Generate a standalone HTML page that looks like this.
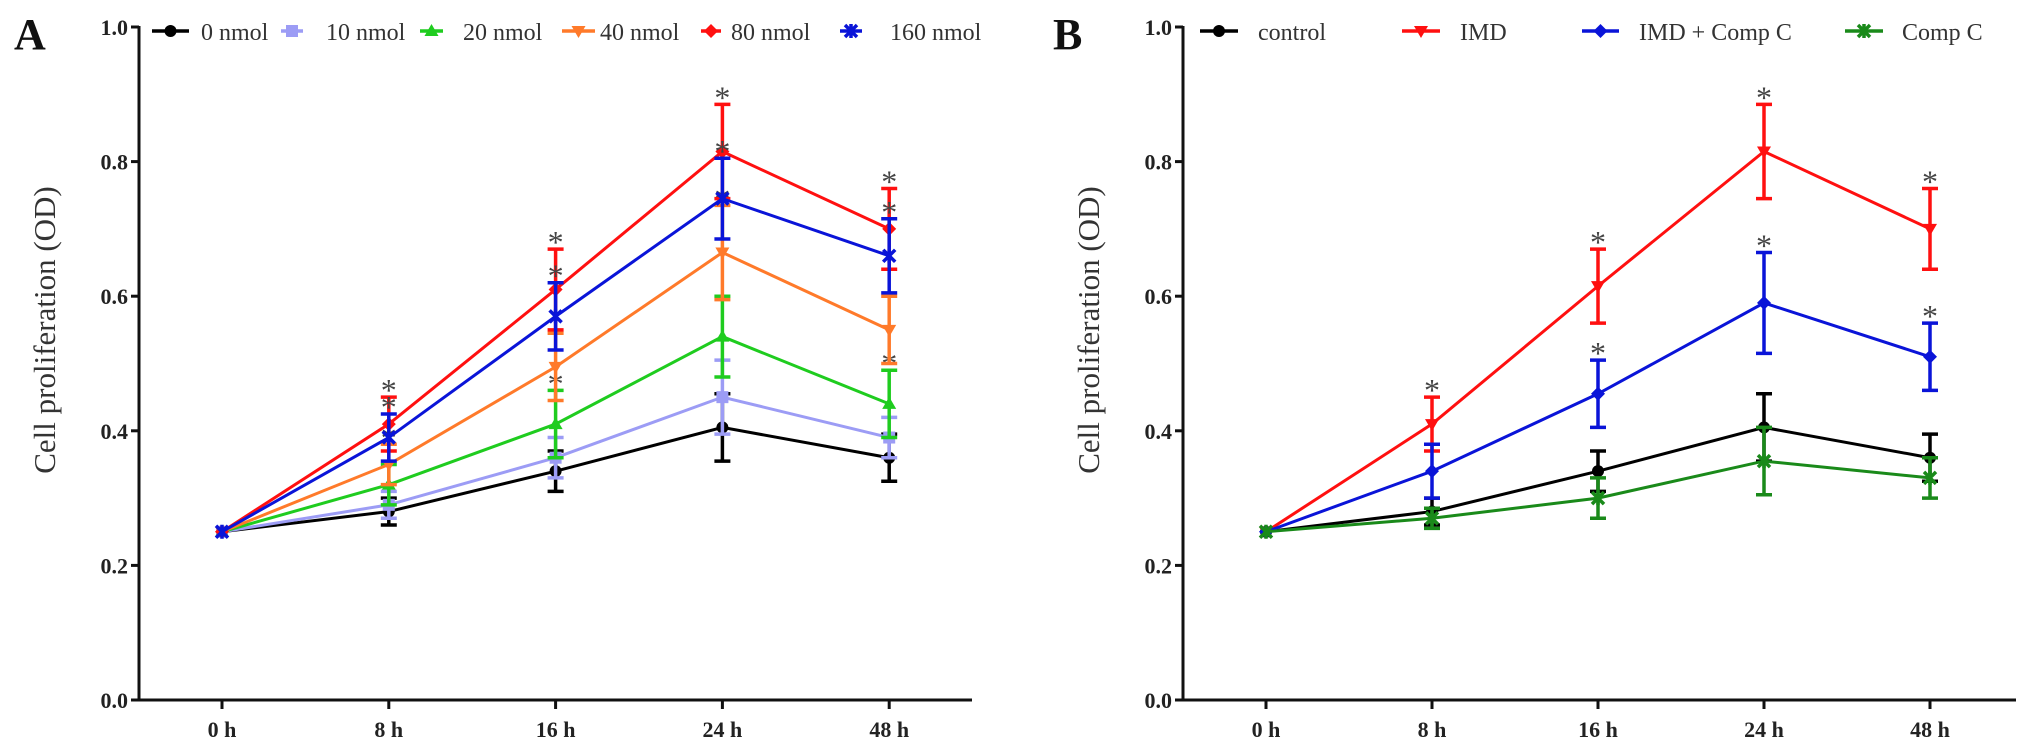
<!DOCTYPE html>
<html><head><meta charset="utf-8">
<style>
html,body{margin:0;padding:0;background:#fff;}
svg{display:block;font-family:"Liberation Serif",serif;}
</style></head>
<body>
<svg id="chart" width="2031" height="752" viewBox="0 0 2031 752"></svg>
<script>
const timeLabels = ["0 h","8 h","16 h","24 h","48 h"];
const yTicks = [0.0,0.2,0.4,0.6,0.8,1.0];

const aNames = ["0 nmol","10 nmol","20 nmol","40 nmol","80 nmol","160 nmol"];
const aV0 = [0.25,0.28,0.34,0.405,0.36];
const aV10 = [0.25,0.29,0.36,0.45,0.39];
const aV20 = [0.25,0.32,0.41,0.54,0.44];
const aV40 = [0.25,0.35,0.495,0.665,0.55];
const aV80 = [0.25,0.41,0.61,0.815,0.70];
const aV160 = [0.25,0.39,0.57,0.745,0.66];
const aE0 = [0.005,0.02,0.03,0.05,0.035];
const aE10 = [0.005,0.02,0.03,0.055,0.03];
const aE20 = [0.005,0.03,0.05,0.06,0.05];
const aE40 = [0.005,0.03,0.05,0.07,0.05];
const aE80 = [0.005,0.04,0.06,0.07,0.06];
const aE160 = [0.005,0.035,0.05,0.06,0.055];
const aStars = [[],[],[2,4],[1,3],[1,2,3,4],[1,2,3,4]];

const bNames = ["control","IMD","IMD + Comp C","Comp C"];
const bCtrl = [0.25,0.28,0.34,0.405,0.36];
const bIMD = [0.25,0.41,0.615,0.815,0.70];
const bIMDC = [0.25,0.34,0.455,0.59,0.51];
const bComp = [0.25,0.27,0.30,0.355,0.33];
const bECtrl = [0.005,0.02,0.03,0.05,0.035];
const bEIMD = [0.005,0.04,0.055,0.07,0.06];
const bEIMDC = [0.005,0.04,0.05,0.075,0.05];
const bEComp = [0.005,0.015,0.03,0.05,0.03];
const bStars = [[],[1,2,3,4],[2,3,4],[]];

const NS="http://www.w3.org/2000/svg";
const svg=document.getElementById('chart');
function mk(tag,attrs,parent){const e=document.createElementNS(NS,tag);for(const k in attrs)e.setAttribute(k,attrs[k]);(parent||svg).appendChild(e);return e;}

const Y0=700, Y1=27;
function yS(v){return Y0-(Y0-Y1)*v;}

function marker(g,shape,x,y,c){
  let m;
  if(shape==='circle') m=mk('circle',{cx:x,cy:y,r:6,fill:c},g);
  else if(shape==='square') m=mk('rect',{x:x-6,y:y-6,width:12,height:12,fill:c},g);
  else if(shape==='tri') m=mk('polygon',{points:`${x},${y-7} ${x-7},${y+5} ${x+7},${y+5}`,fill:c},g);
  else if(shape==='itri') m=mk('polygon',{points:`${x},${y+7} ${x-7},${y-5} ${x+7},${y-5}`,fill:c},g);
  else if(shape==='diamond') m=mk('polygon',{points:`${x},${y-7} ${x+7},${y} ${x},${y+7} ${x-7},${y}`,fill:c},g);
  else { m=mk('path',{d:`M${x-6} ${y-6}L${x+6} ${y+6}M${x+6} ${y-6}L${x-6} ${y+6}M${x} ${y-7}L${x} ${y+7}`,stroke:c,'stroke-width':3.5,fill:'none'},g); }
  
  
}

function panel(cfg){
  const g=mk('g',{});
  
  
  const xS=i=>cfg.x0+i*cfg.dx;
  const L=mk('text',{x:cfg.letterX,y:49,'font-size':44,'font-weight':'bold',fill:'#111'},g);
  L.textContent=cfg.letter;
  
  
  const ya=mk('line',{x1:cfg.ax,y1:Y1-1,x2:cfg.ax,y2:Y0+1.5,stroke:'#111','stroke-width':3},g);
  
  
  const xa=mk('line',{x1:cfg.ax-1.5,y1:Y0,x2:cfg.axEnd,y2:Y0,stroke:'#111','stroke-width':3},g);
  
  
  yTicks.forEach(t=>{
    const y=yS(t);
    mk('line',{x1:cfg.ax-8,y1:y,x2:cfg.ax,y2:y,stroke:'#111','stroke-width':3},g);
    const tx=mk('text',{x:cfg.ax-11,y:y+8,'font-size':22,'font-weight':'bold','text-anchor':'end',fill:'#222'},g);
    tx.textContent=t.toFixed(1);
    
    
  });
  timeLabels.forEach((l,i)=>{
    const x=xS(i);
    mk('line',{x1:x,y1:Y0,x2:x,y2:Y0+9,stroke:'#111','stroke-width':3},g);
    const tx=mk('text',{x:x,y:737,'font-size':22,'font-weight':'bold','text-anchor':'middle',fill:'#222'},g);
    tx.textContent=l;
    
    
  });
  const yt=mk('text',{x:0,y:0,'font-size':31,'text-anchor':'middle',fill:'#333',transform:`translate(${cfg.titleX},330) rotate(-90)`},g);
  yt.textContent='Cell proliferation (OD)';
  
  
  cfg.series.forEach((s,si)=>{
    const sg=mk('g',{},g);
    
    
    const pts=s.v.map((v,i)=>xS(i)+','+yS(v)).join(' ');
    const pl=mk('polyline',{points:pts,fill:'none',stroke:s.c,'stroke-width':3},sg);
    
    
    s.v.forEach((v,i)=>{
      const x=xS(i),e=s.e[i];
      if(i>0){
        const eb=mk('path',{d:`M${x} ${yS(v+e)}L${x} ${yS(v-e)}M${x-8} ${yS(v+e)}L${x+8} ${yS(v+e)}M${x-8} ${yS(v-e)}L${x+8} ${yS(v-e)}`,stroke:s.c,'stroke-width':3.5,fill:'none'},sg);
        
        
      }
      marker(sg,s.m,x,yS(v),s.c);
    });
    (s.stars||[]).forEach(i=>{
      const st=mk('text',{x:xS(i),y:yS(s.v[i]+s.e[i])+4,'font-size':32,'text-anchor':'middle',fill:'#444'},sg);
      st.textContent='*';
      
      
    });
  });
  cfg.series.forEach((s,si)=>{
    const lg=mk('g',{},g);
    
    
    const [l1,l2,tx]=cfg.legend[si];
    mk('line',{x1:l1,y1:31,x2:l2,y2:31,stroke:s.c,'stroke-width':3.5},lg);
    marker(lg,s.m,(l1+l2)/2,31,s.c);
    const t=mk('text',{x:tx,y:40,'font-size':24,fill:'#333'},lg);
    t.textContent=s.name;
  });
}

panel({name:'panel-a',letter:'A',letterX:14,ax:139,axEnd:972,x0:222,dx:166.8,titleX:55,
  series:[
    {name:aNames[0],v:aV0,e:aE0,c:'#000000',m:'circle',stars:aStars[0]},
    {name:aNames[1],v:aV10,e:aE10,c:'#9c9cf5',m:'square',stars:aStars[1]},
    {name:aNames[2],v:aV20,e:aE20,c:'#1fcc1f',m:'tri',stars:aStars[2]},
    {name:aNames[3],v:aV40,e:aE40,c:'#ff7a2a',m:'itri',stars:aStars[3]},
    {name:aNames[4],v:aV80,e:aE80,c:'#ff1010',m:'diamond',stars:aStars[4]},
    {name:aNames[5],v:aV160,e:aE160,c:'#0a14d8',m:'x',stars:aStars[5]}],
  legend:[[152,189,201],[281,303,326],[420,443,463],[562,595,600],[701,721,731],[840,862,890]]
});
panel({name:'panel-b',letter:'B',letterX:1053,ax:1183,axEnd:2016,x0:1266,dx:166,titleX:1099,
  series:[
    {name:bNames[0],v:bCtrl,e:bECtrl,c:'#000000',m:'circle',stars:bStars[0]},
    {name:bNames[1],v:bIMD,e:bEIMD,c:'#ff1010',m:'itri',stars:bStars[1]},
    {name:bNames[2],v:bIMDC,e:bEIMDC,c:'#0a14d8',m:'diamond',stars:bStars[2]},
    {name:bNames[3],v:bComp,e:bEComp,c:'#1a8a1a',m:'x',stars:bStars[3]}],
  legend:[[1200,1238,1258],[1402,1440,1460],[1582,1619,1639],[1845,1883,1902]]
});
</script>
</body></html>
